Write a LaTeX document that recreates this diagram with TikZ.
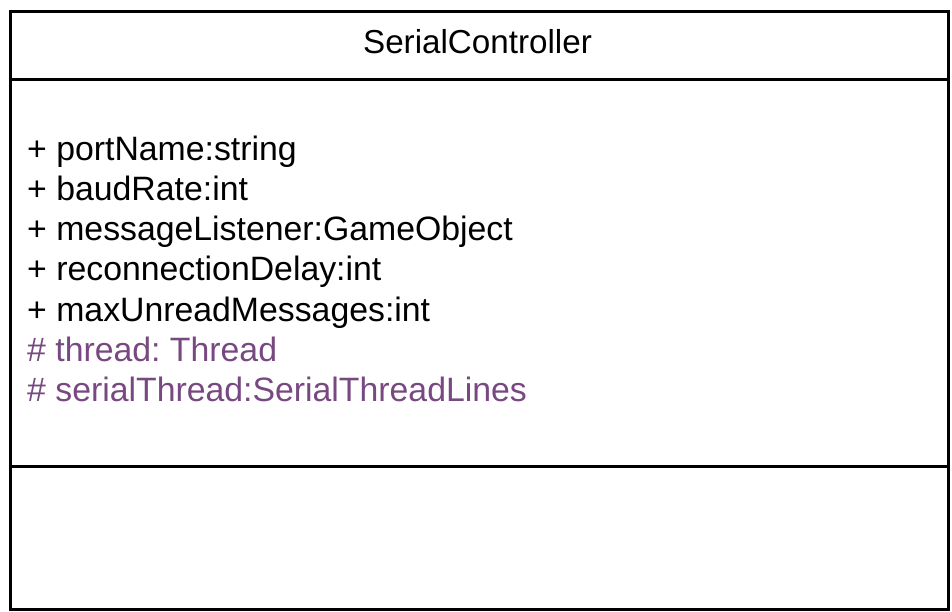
\documentclass[tikz,border=0pt]{standalone}
\usepackage{fontspec}
\setmainfont{Liberation Sans}
\frenchspacing
\definecolor{prot}{RGB}{120,72,128}
\begin{document}
\begin{tikzpicture}[x=1pt,y=-1pt,
  frame/.style={draw=black,line width=3.2pt},
  attr/.style={anchor=base west,inner sep=0pt,font=\fontsize{33.8}{38}\selectfont},
  title/.style={anchor=base,inner sep=0pt,font=\fontsize{33.2}{38}\selectfont}]
\useasboundingbox (0,0) rectangle (952,611);
\node[frame,minimum width=938pt,minimum height=598.5pt,anchor=north west,inner sep=0pt] (box) at (8.5,9.5) {};
\coordinate (d1l) at (8.5,79.5);
\coordinate (d1r) at (946.5,79.5);
\coordinate (d2l) at (8.5,466.5);
\coordinate (d2r) at (946.5,466.5);
\draw[frame] (d1l) -- (d1r);
\draw[frame] (d2l) -- (d2r);
\node[title] (name) at (477.5,53.5) {SerialController};
\node[attr] (a1) at (27,160) {+ portName:string};
\node[attr] (a2) at (27,200.3) {+ baudRate:int};
\node[attr] (a3) at (27,240.6) {+ messageListener:GameObject};
\node[attr] (a4) at (27,280.9) {+ reconnectionDelay:int};
\node[attr] (a5) at (27,321.2) {+ maxUnreadMessages:int};
\node[attr,text=prot] (a6) at (27,361.5) {\# thread: Thread};
\node[attr,text=prot] (a7) at (27,401.8) {\# serialThread:SerialThreadLines};
\end{tikzpicture}
\end{document}
